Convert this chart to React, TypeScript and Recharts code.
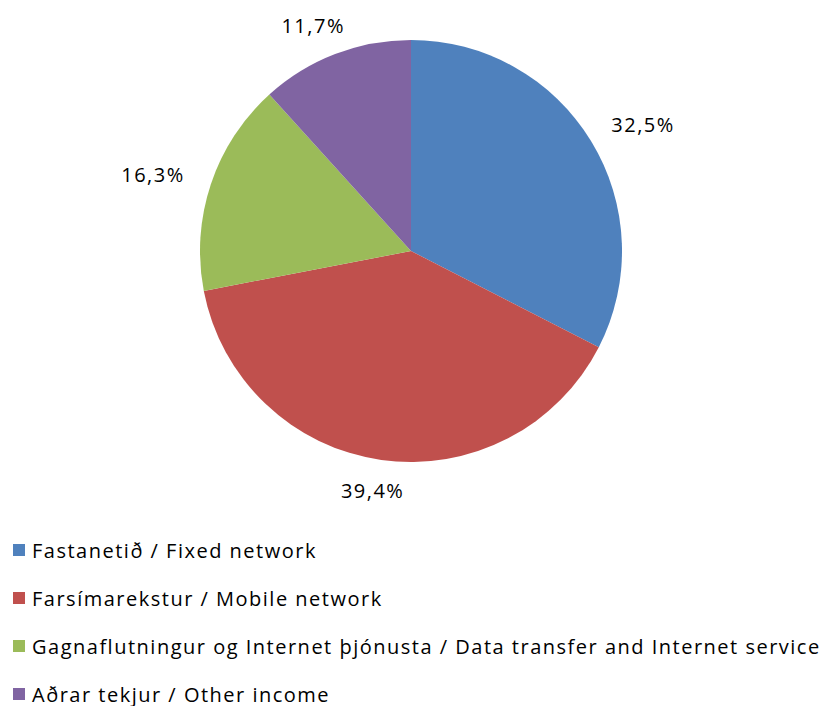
import { PieChart, Pie, Cell } from 'recharts'

const categories = [
  'Fastanetið / Fixed network',
  'Farsímarekstur / Mobile network',
  'Gagnaflutningur og Internet þjónusta / Data transfer and Internet service',
  'Aðrar tekjur / Other income',
]
const shares = [32.5, 39.4, 16.3, 11.7]
const labels = ['32,5%', '39,4%', '16,3%', '11,7%']
const colors = ['#4F81BD', '#C0504D', '#9BBB59', '#8064A2']

const data = categories.map((name, i) => ({ name, value: shares[i], label: labels[i] }))

const FONT = '"Open Sans", Lato, sans-serif'
const RAD = Math.PI / 180

// labels sit outside the slice end, box pushed away from the pie
function renderLabel(props: any) {
  const { cx, cy, midAngle, outerRadius, index } = props
  const cos = Math.cos(-midAngle * RAD)
  const sin = Math.sin(-midAngle * RAD)
  const r = outerRadius + 26
  const w = 70
  const h = 10
  const x = cx + r * cos + (w / 2) * cos
  const y = cy + r * sin + (h / 2) * sin
  return (
    <text
      x={x}
      y={y}
      textAnchor="middle"
      dominantBaseline="central"
      fill="#000"
      fontSize={20}
      letterSpacing={1.5}
      fontFamily={FONT}
    >
      {labels[index]}
    </text>
  )
}

function LegendBox() {
  return (
    <div style={{ fontFamily: FONT, fontSize: 20, letterSpacing: 1.5, color: '#000' }}>
      {categories.map((c, i) => (
        <div
          key={c}
          style={{ display: 'flex', alignItems: 'center', height: 48, whiteSpace: 'nowrap' }}
        >
          <span
            style={{
              display: 'inline-block',
              width: 12,
              height: 12,
              background: colors[i],
              marginLeft: 13,
              marginRight: 7,
            }}
          />
          <span>{c}</span>
        </div>
      ))}
    </div>
  )
}

export default function App() {
  return (
    <div style={{ position: 'absolute', left: 0, top: 0, width: 822, height: 706, background: '#fff' }}>
      <PieChart width={822} height={706} margin={{ top: 0, right: 0, bottom: 0, left: 0 }}>
        <Pie
          data={data}
          dataKey="value"
          nameKey="name"
          cx={411}
          cy={251}
          outerRadius={211}
          startAngle={90}
          endAngle={-270}
          stroke="none"
          label={renderLabel}
          labelLine={false}
          isAnimationActive={false}
        >
          {data.map((d, i) => (
            <Cell key={d.name} fill={colors[i]} />
          ))}
        </Pie>
      </PieChart>
      <div style={{ position: 'absolute', left: 0, top: 526 }}>
        <LegendBox />
      </div>
    </div>
  )
}
